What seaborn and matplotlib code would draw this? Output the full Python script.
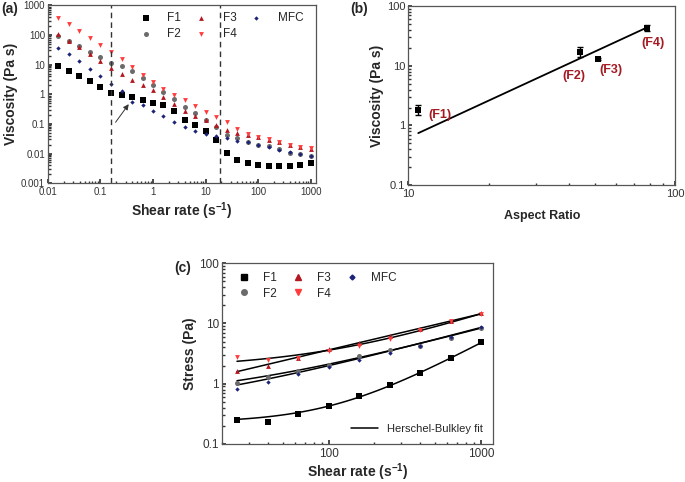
import numpy as np
import pandas as pd
import seaborn as sns
import matplotlib.pyplot as plt

# (a) viscosity vs shear rate
rates_a = [0.0158, 0.0251, 0.0398, 0.0631, 0.1, 0.158, 0.251, 0.398, 0.631, 1,
           1.58, 2.51, 3.98, 6.31, 10, 15.8, 25.1, 39.8, 63.1, 100,
           158, 251, 398, 631, 1000]
visc_f1 = [8.7, 6.0, 4.2, 2.75, 1.8, 1.12, 0.93, 0.8, 0.63, 0.52,
           0.42, 0.27, 0.14, 0.09, 0.059, 0.028, 0.0102, 0.0059, 0.0048, 0.0042,
           0.0039, 0.0039, 0.0038, 0.0042, 0.0048]
visc_f2 = [91, 64, 41, 26, 17.6, 11.5, 8.9, 5.9, 3.5, 2.0,
           1.18, 0.69, 0.37, 0.24, 0.14, 0.076, 0.041, 0.033, 0.025, 0.020,
           0.018, 0.014, 0.0105, 0.0093, 0.0081]
visc_f3 = [107, 62, 39, 22, 12.8, 7.4, 4.7, 3.1, 2.05, 1.38,
           0.78, 0.47, 0.28, 0.19, 0.13, 0.095, 0.063, 0.049, 0.043, 0.036,
           0.028, 0.024, 0.020, 0.016, 0.0144]
visc_f4 = [360, 240, 140, 79, 46, 26, 15.4, 8.3, 4.5, 2.6,
           1.52, 0.95, 0.66, 0.41, 0.26, 0.17, 0.112, 0.065, 0.046, 0.037,
           0.030, 0.025, 0.020, 0.017, 0.015]
visc_mfc = [37, 23, 13, 7.3, 4.2, 2.3, 1.28, 0.55, 0.45, 0.27,
            0.18, 0.115, 0.077, 0.058, 0.047, 0.040, 0.033, 0.027, 0.024, 0.020,
            0.016, 0.013, 0.011, 0.0095, 0.0085]

# (b) viscosity vs aspect ratio
aspect = [10.9, 44, 51.2, 78.3]
visc_b = [1.84, 17.4, 13.0, 44]
err_b = [0.35, 3.5, 0.5, 5]
labels_b = ['(F1)', '(F2)', '(F3)', '(F4)']
fit_k, fit_n = 0.0053, 2.07
fit_range = [10.9, 77]

# (c) stress vs shear rate + Herschel-Bulkley fits (tau0, K, n)
rates_c = [25.1, 39.8, 63.1, 100, 158, 251, 398, 631, 1000]
stress_f1 = [0.25, 0.235, 0.316, 0.43, 0.62, 0.96, 1.52, 2.68, 4.9]
stress_f2 = [1.03, 1.28, 1.6, 2.02, 2.9, 3.64, 4.3, 5.7, 8.4]
stress_f3 = [1.6, 2.0, 2.7, 3.7, 4.8, 6.3, 8.1, 10.9, 14.9]
stress_f4 = [2.8, 2.45, 2.64, 3.46, 4.2, 5.5, 7.7, 10.8, 14.5]
stress_mfc = [0.81, 1.07, 1.45, 1.9, 2.45, 3.2, 4.2, 6.0, 8.8]
hb_params = {
    'F1': (0.225, 3.8e-4, 1.36),
    'F2': (0.5, 0.067, 0.69),
    'F3': (0.0, 0.229, 0.6),
    'F4': (1.8, 0.0356, 0.851),
    'MFC': (0.3, 0.0705, 0.69),
}

names = ['F1', 'F2', 'F3', 'F4', 'MFC']
colors = {'F1': '#000000', 'F2': '#6b6b6b', 'F3': '#b3171f', 'F4': '#ff3b3b', 'MFC': '#1c237a'}
markers = {'F1': 's', 'F2': 'o', 'F3': '^', 'F4': 'v', 'MFC': 'D'}
sizes = {'F1': 13, 'F2': 13, 'F3': 12, 'F4': 12, 'MFC': 5}

sns.set_theme(style='ticks')
plt.rcParams['font.family'] = ['Liberation Sans', 'DejaVu Sans']
plt.rcParams.update({
    'axes.edgecolor': '#555555',
    'axes.linewidth': 0.9,
    'xtick.direction': 'in',
    'ytick.direction': 'in',
    'xtick.color': '#333333',
    'ytick.color': '#333333',
    'xtick.major.size': 3,
    'ytick.major.size': 3,
    'xtick.minor.size': 1.8,
    'ytick.minor.size': 1.8,
})

fig = plt.figure(figsize=(6.85, 4.82), dpi=100)
ax_a = fig.add_axes([0.070, 0.620, 0.391, 0.369])
ax_b = fig.add_axes([0.596, 0.616, 0.390, 0.371])
ax_c = fig.add_axes([0.324, 0.079, 0.396, 0.375])


def style_axis(ax, size):
    ax.set_xscale('log')
    ax.set_yscale('log')
    ax.tick_params(which='both', top=False, right=False, labelsize=size, pad=2)
    ax.tick_params(axis='x', pad=3)
    for axis in (ax.xaxis, ax.yaxis):
        axis.set_major_formatter(plt.FuncFormatter(lambda v, p: f'{v:g}'))
        axis.set_minor_formatter(plt.NullFormatter())


# ---- panel (a)
visc = {'F1': visc_f1, 'F2': visc_f2, 'F3': visc_f3, 'F4': visc_f4, 'MFC': visc_mfc}
for name in names:
    sns.scatterplot(x=rates_a, y=visc[name], ax=ax_a, color=colors[name],
                    marker=markers[name], s=sizes[name], linewidth=0, label=name)
for xv in [0.158, 19]:
    ax_a.axvline(xv, color='#333333', ls=(0, (4, 3)), lw=1)
ax_a.annotate('', xy=(0.37, 0.55), xytext=(0.18, 0.095),
              arrowprops=dict(arrowstyle='-|>', color='#333333', lw=0.7,
                              mutation_scale=8))
style_axis(ax_a, 7)
ax_a.set_xlim(0.01, 1250)
ax_a.set_ylim(0.001, 1000)
ax_a.set_xlabel('Shear rate (s$^{\\mathregular{-1}}$)', fontsize=10, fontweight='bold', labelpad=2)
ax_a.set_ylabel('Viscosity (Pa s)', fontsize=10, fontweight='bold', labelpad=2)
ax_a.legend(ncol=3, loc='upper left', bbox_to_anchor=(0.27, 1.02), frameon=False,
            fontsize=8.5, handlelength=2.5, handletextpad=0.6, columnspacing=0.4,
            labelspacing=0.3)
fig.text(0.002, 0.972, '(a)', fontsize=10, fontweight='bold')

# ---- panel (b)
sns.scatterplot(x=aspect, y=visc_b, ax=ax_b, color='black', marker='s', s=20,
                linewidth=0, zorder=3)
ax_b.errorbar(aspect, visc_b, yerr=err_b, fmt='none', ecolor='black',
              elinewidth=1, capsize=2, zorder=2)
fit_x = np.geomspace(fit_range[0], fit_range[1], 50)
sns.lineplot(x=fit_x, y=fit_k * fit_x ** fit_n, ax=ax_b, color='black', lw=1.3)
label_pos = [(11.9, 1.5, 'left'), (41.8, 6.7, 'center'),
             (57.5, 8.4, 'center'), (82.4, 24.3, 'center')]
for lab, (lx, ly, ha) in zip(labels_b, label_pos):
    ax_b.text(lx, ly, lab, color='#a31a22', fontsize=9, fontweight='bold',
              ha=ha, va='center')
style_axis(ax_b, 8)
ax_b.set_xlim(10, 100)
ax_b.set_ylim(0.1, 100)
ax_b.set_xlabel('Aspect Ratio', fontsize=9, fontweight='bold', labelpad=8)
ax_b.set_ylabel('Viscosity (Pa s)', fontsize=10, fontweight='bold', labelpad=2)
fig.text(0.511, 0.972, '(b)', fontsize=10, fontweight='bold')

# ---- panel (c)
stress = {'F1': stress_f1, 'F2': stress_f2, 'F3': stress_f3, 'F4': stress_f4, 'MFC': stress_mfc}
grid = np.geomspace(25.1, 1000, 120)
for name in names:
    tau0, k, n = hb_params[name]
    sns.lineplot(x=grid, y=tau0 + k * grid ** n, ax=ax_c, color='black', lw=1.1,
                 legend=False)
handles = []
for name in names:
    sns.scatterplot(x=rates_c, y=stress[name], ax=ax_c, color=colors[name],
                    marker=markers[name], s=sizes[name], linewidth=0, zorder=3)
    handles.append(plt.Line2D([], [], ls='none', marker=markers[name], color=colors[name],
                              markersize=4 if name != 'MFC' else 2.5, label=name))
style_axis(ax_c, 8.5)
ax_c.set_xlim(20, 1200)
ax_c.set_ylim(0.1, 100)
ax_c.set_xlabel('Shear rate (s$^{\\mathregular{-1}}$)', fontsize=10, fontweight='bold', labelpad=1)
ax_c.set_ylabel('Stress (Pa)', fontsize=10, fontweight='bold', labelpad=2)
leg1 = ax_c.legend(handles=handles, ncol=3, loc='upper left', bbox_to_anchor=(0.0, 1.01),
                   frameon=False, fontsize=8.5, handlelength=2.0, handletextpad=0.6,
                   columnspacing=0.8, labelspacing=0.3)
ax_c.add_artist(leg1)
ax_c.legend(handles=[plt.Line2D([], [], color='black', lw=1.1, label='Herschel-Bulkley fit')],
            loc='lower right', frameon=False, fontsize=8, handlelength=2.5)
fig.text(0.255, 0.435, '(c)', fontsize=10, fontweight='bold')

fig.savefig('out.png', dpi=100)
